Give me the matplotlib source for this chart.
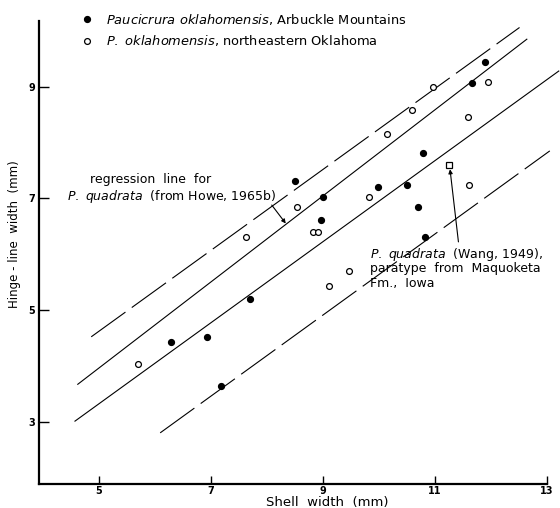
import numpy as np
import matplotlib.pyplot as plt

plt.rcParams['font.family'] = ['DejaVu Sans']
plt.rcParams['mathtext.fontset'] = 'dejavusans'

# Paucicrura oklahomensis, Arbuckle Mountains (filled dots)
arbuckle_x = [6.29, 6.94, 7.19, 7.70, 8.51, 9.01, 8.97, 9.99, 10.50, 10.79, 10.70, 10.83, 11.67, 11.90]
arbuckle_y = [4.42, 4.51, 3.64, 5.20, 7.31, 7.03, 6.62, 7.21, 7.24, 7.82, 6.84, 6.30, 9.06, 9.44]

# P. oklahomensis, northeastern Oklahoma (open dots)
neok_x = [5.70, 7.63, 8.54, 8.82, 8.91, 9.47, 9.11, 9.83, 10.14, 10.59, 10.97, 11.59, 11.94, 11.61]
neok_y = [4.03, 6.31, 6.85, 6.40, 6.39, 5.70, 5.43, 7.02, 8.15, 8.58, 8.99, 8.46, 9.08, 7.24]

# P. quadrata paratype (Wang, 1949)
paratype_x = [11.26]
paratype_y = [7.59]

# regression lines, end points
quadrata_x = [4.63, 12.64]
quadrata_y = [3.67, 9.85]
okla_x = [4.58, 13.21]
okla_y = [3.01, 9.28]
band_hi_x = [4.87, 12.51]
band_hi_y = [4.52, 10.06]
band_lo_x = [6.10, 13.05]
band_lo_y = [2.80, 7.85]

xticks = [5, 7, 9, 11, 13]
yticks = [3, 5, 7, 9]

fig = plt.figure(figsize=(5.6, 5.08), dpi=100)
ax = fig.add_axes([0.0702, 0.048, 0.9066, 0.910])

lw = 0.8
ax.plot(quadrata_x, quadrata_y, color='k', lw=lw, clip_on=False)
ax.plot(okla_x, okla_y, color='k', lw=lw, clip_on=False)
ax.plot(band_hi_x, band_hi_y, color='k', lw=lw, dashes=(38, 7), clip_on=False)
ax.plot(band_lo_x, band_lo_y, color='k', lw=lw, dashes=(38, 7), clip_on=False)

filled, = ax.plot(arbuckle_x, arbuckle_y, 'o', color='k', ms=4.2, ls='none', clip_on=False)
hollow, = ax.plot(neok_x, neok_y, 'o', mfc='white', mec='k', mew=0.9, ms=4.2, ls='none', clip_on=False)
ax.plot(paratype_x, paratype_y, 's', mfc='white', mec='k', mew=0.9, ms=5, ls='none', clip_on=False)

# legend
ax.legend([filled, hollow],
          [r"$\mathit{Paucicrura\ oklahomensis}$, Arbuckle Mountains",
           r"$\mathit{P.\ oklahomensis}$, northeastern Oklahoma"],
          loc='upper left', bbox_to_anchor=(0.144, 0.977), bbox_transform=fig.transFigure,
          frameon=False, fontsize=9.4, handlelength=1.0, handletextpad=0.95,
          labelspacing=0.5, borderpad=0, borderaxespad=0)

# annotations
fs = 9.0
ax.text(4.85, 7.33, "regression  line  for", fontsize=fs, ha='left', va='center')
ax.text(4.43, 7.03, r"$\mathit{P.\ quadrata}$  (from Howe, 1965b)", fontsize=fs, ha='left', va='center')
ax.annotate('', xy=(8.34, 6.55), xytext=(8.09, 6.88),
            arrowprops=dict(arrowstyle='-|>', lw=lw, color='k', mutation_scale=6, shrinkA=0, shrinkB=0))

ax.text(9.84, 6.00, r"$\mathit{P.\ quadrata}$  (Wang, 1949),", fontsize=fs, ha='left', va='center')
ax.text(9.84, 5.74, "paratype  from  Maquoketa", fontsize=fs, ha='left', va='center')
ax.text(9.84, 5.48, "Fm.,  Iowa", fontsize=fs, ha='left', va='center')
ax.annotate('', xy=(11.27, 7.52), xytext=(11.42, 6.22),
            arrowprops=dict(arrowstyle='-|>', lw=lw, color='k', mutation_scale=6, shrinkA=0, shrinkB=0))

ax.set_xlim(3.944, 13)
ax.set_ylim(1.891, 10.17)
ax.set_xticks(xticks)
ax.set_yticks(yticks)
ax.tick_params(direction='in', width=1.0, labelsize=7)
ax.tick_params(axis='x', length=6, pad=1.5)
ax.tick_params(axis='y', length=7, pad=3.0)
for lab in ax.get_xticklabels() + ax.get_yticklabels():
    lab.set_fontweight('bold')

for s in ['top', 'right']:
    ax.spines[s].set_visible(False)
for s in ['left', 'bottom']:
    ax.spines[s].set_linewidth(1.6)

ax.set_xlabel("Shell  width  (mm)", fontsize=9.5)
ax.xaxis.set_label_coords(0.567, -0.026)
ax.set_ylabel("Hinge - line  width  (mm)", fontsize=8.5)
ax.yaxis.set_label_coords(-0.036, 0.54)

fig.savefig('out.png', dpi=100)
